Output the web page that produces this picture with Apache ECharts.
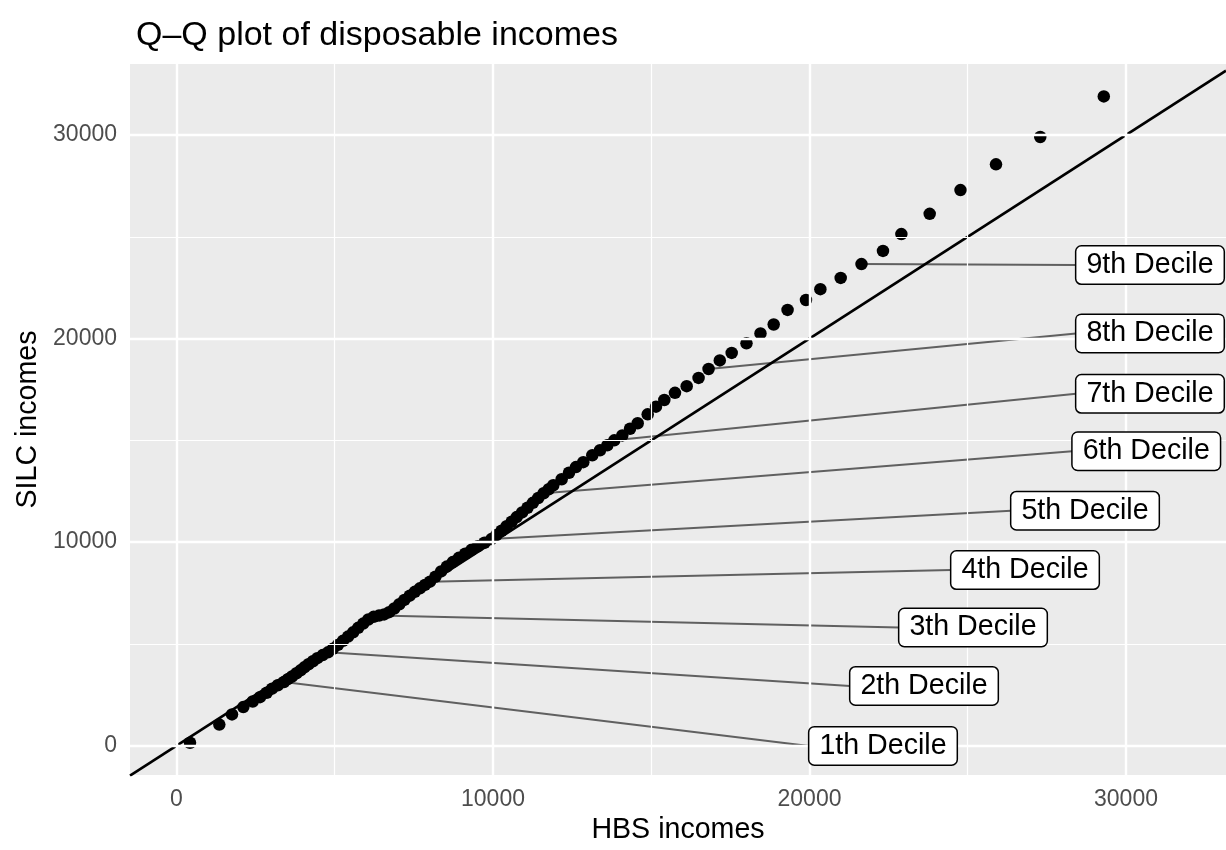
<!DOCTYPE html>
<html>
<head>
<meta charset="utf-8">
<script src="https://cdn.jsdelivr.net/npm/echarts@6/dist/echarts.min.js"></script>
<style>
html, body { margin: 0; padding: 0; background: #fff; }
#chart { width: 1226px; height: 850px; }
</style>
</head>
<body>
<div id="chart"></div>
<script>
// quantiles of the two income distributions
var hbsIncome = [427, 1353, 1754, 2111, 2408, 2638, 2850, 3020, 3200, 3397,
    3520, 3650, 3790, 3920, 4040, 4170, 4310, 4450, 4620, 4787,
    4940, 5100, 5260, 5420, 5580, 5740, 5900, 6060, 6230, 6400,
    6560, 6720, 6880, 7040, 7200, 7370, 7530, 7690, 7850, 8009,
    8180, 8360, 8540, 8730, 8920, 9120, 9320, 9520, 9730, 9950,
    10110, 10270, 10430, 10590, 10750, 10920, 11090, 11260, 11430, 11600,
    11760, 11905, 12170, 12401, 12622, 12853, 13138, 13381, 13612, 13833,
    14086, 14329, 14572, 14888, 15150, 15413, 15750, 16120, 16496, 16812,
    17166, 17542, 18009, 18452, 18869, 19308, 19889, 20344, 20986, 21643,
    22322, 22903, 23798, 24771, 25893, 27292, 29299];
var silcIncome = [146, 1036, 1537, 1897, 2170, 2384, 2600, 2800, 2970, 3128,
    3270, 3400, 3560, 3700, 3850, 4000, 4150, 4300, 4450, 4588,
    4760, 4950, 5150, 5360, 5570, 5790, 6000, 6200, 6330, 6390,
    6450, 6560, 6740, 6950, 7160, 7370, 7560, 7730, 7900, 8057,
    8300, 8560, 8800, 9020, 9230, 9430, 9620, 9800, 9970, 10150,
    10350, 10560, 10780, 11000, 11230, 11460, 11690, 11930, 12170, 12400,
    12600, 12796, 13088, 13410, 13687, 13930, 14270, 14514, 14757, 15000,
    15243, 15569, 15842, 16280, 16655, 16981, 17336, 17662, 18066, 18504,
    18927, 19297, 19768, 20255, 20693, 21408, 21895, 22430, 22980, 23661,
    24308, 25135, 26127, 27295, 28560, 29903, 31898];

// decile labels and where the repelled boxes sit
var decileNames = ['1th Decile', '2th Decile', '3th Decile', '4th Decile', '5th Decile',
    '6th Decile', '7th Decile', '8th Decile', '9th Decile'];
var decileIndex = [9, 19, 29, 39, 49, 59, 69, 79, 89];
var labelX = [22322, 23618, 25166, 26809, 28705, 30640, 30758, 30758, 30758];
var labelY = [-10, 2934, 5805, 8627, 11546, 14466, 17287, 20255, 23612];

var xMajor = [0, 10000, 20000, 30000];
var xMinor = [5000, 15000, 25000];
var yMajor = [0, 10000, 20000, 30000];
var yMinor = [5000, 15000, 25000];
var xLimits = [-1469, 33160];
var yLimits = [-1445, 33490];
// reference line y = x
var refIntercept = 0;
var refSlope = 1;

var font = '"Liberation Sans", Arial, Helvetica, sans-serif';

var points = hbsIncome.map(function (v, i) { return [v, silcIncome[i]]; });
var refLine = [
    [xLimits[0], refIntercept + refSlope * xLimits[0]],
    [xLimits[1], refIntercept + refSlope * xLimits[1]]
];
var labelData = decileIndex.map(function (k, i) {
    return [hbsIncome[k], silcIncome[k], labelX[i], labelY[i]];
});

function gridLines(axis, values, width) {
    return values.map(function (v) {
        var d = {};
        d[axis] = v;
        d.lineStyle = { color: '#ffffff', width: width, type: 'solid' };
        return d;
    });
}

function plainNumber(v) {
    return String(v);
}

var chart = echarts.init(document.getElementById('chart'), null, { renderer: 'canvas' });

var option = {
    animation: false,
    backgroundColor: '#ffffff',
    title: {
        text: 'Q\u2013Q plot of disposable incomes',
        left: 131,
        top: 14,
        textStyle: { fontFamily: font, fontSize: 34, fontWeight: 'normal', color: '#000' }
    },
    grid: {
        left: 130, right: 0, top: 64, bottom: 68,
        show: true, backgroundColor: '#EBEBEB', borderWidth: 0
    },
    xAxis: {
        type: 'value',
        min: xLimits[0], max: xLimits[1],
        name: 'HBS incomes',
        nameLocation: 'middle',
        nameGap: 40,
        nameTextStyle: { fontFamily: font, fontSize: 28.6, color: '#000' },
        axisLine: { show: false },
        axisTick: { show: true, customValues: xMajor, length: 7, lineStyle: { color: '#333333', width: 1.5 } },
        axisLabel: { customValues: xMajor, formatter: plainNumber, margin: 13, fontFamily: font, fontSize: 23, color: '#4D4D4D' },
        splitLine: { show: false }
    },
    yAxis: {
        type: 'value',
        min: yLimits[0], max: yLimits[1],
        name: 'SILC incomes',
        nameLocation: 'middle',
        nameGap: 81,
        nameTextStyle: { fontFamily: font, fontSize: 28.6, color: '#000' },
        axisLine: { show: false },
        axisTick: { show: true, customValues: yMajor, length: 7, lineStyle: { color: '#333333', width: 1.5 } },
        axisLabel: { customValues: yMajor, formatter: plainNumber, margin: 13, fontFamily: font, fontSize: 23, color: '#4D4D4D' },
        splitLine: { show: false }
    },
    series: [
        {
            // panel grid lines
            type: 'line',
            data: [],
            z: 1,
            silent: true,
            markLine: {
                silent: true,
                symbol: 'none',
                label: { show: false },
                animation: false,
                data: [].concat(
                    gridLines('xAxis', xMinor, 1.2),
                    gridLines('yAxis', yMinor, 1.2),
                    gridLines('xAxis', xMajor, 2.4),
                    gridLines('yAxis', yMajor, 2.4)
                )
            }
        },
        {
            // label segments
            type: 'custom',
            coordinateSystem: 'cartesian2d',
            data: labelData,
            encode: { x: [0, 2], y: [1, 3] },
            z: 2,
            clip: false,
            renderItem: function (params, api) {
                var p = api.coord([api.value(0), api.value(1)]);
                var l = api.coord([api.value(2), api.value(3)]);
                return {
                    type: 'line',
                    shape: { x1: p[0], y1: p[1], x2: l[0] - 74, y2: l[1] },
                    style: { stroke: '#606060', lineWidth: 2 }
                };
            }
        },
        {
            type: 'scatter',
            data: points,
            symbol: 'circle',
            symbolSize: 12.5,
            itemStyle: { color: '#000000', opacity: 1 },
            z: 3
        },
        {
            type: 'line',
            data: refLine,
            symbol: 'none',
            lineStyle: { color: '#000000', width: 2.6 },
            z: 4
        },
        {
            // label boxes
            type: 'custom',
            coordinateSystem: 'cartesian2d',
            data: labelData,
            encode: { x: 2, y: 3 },
            z: 5,
            clip: false,
            renderItem: function (params, api) {
                var l = api.coord([api.value(2), api.value(3)]);
                return {
                    type: 'text',
                    x: l[0],
                    y: l[1],
                    style: {
                        text: decileNames[params.dataIndex],
                        fontFamily: font,
                        fontSize: 28.6,
                        fill: '#000000',
                        align: 'center',
                        verticalAlign: 'middle',
                        backgroundColor: '#ffffff',
                        borderColor: '#000000',
                        borderWidth: 1.5,
                        borderRadius: 5,
                        padding: [4, 10, 4, 10]
                    }
                };
            }
        }
    ]
};

chart.setOption(option);
</script>
</body>
</html>
